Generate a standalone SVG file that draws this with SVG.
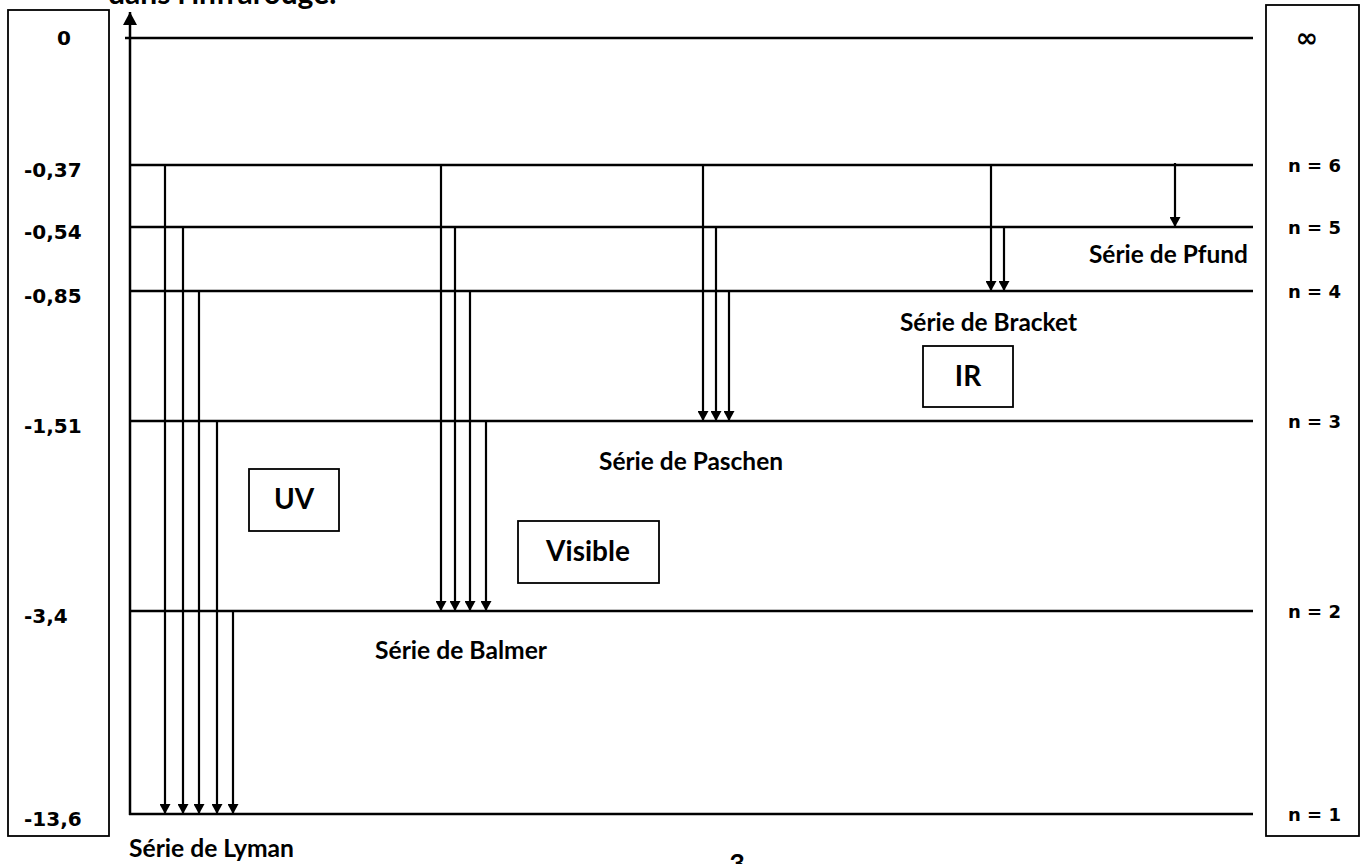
<svg xmlns="http://www.w3.org/2000/svg" width="1367" height="864" viewBox="0 0 1367 864">
<defs>
<style>
.lvl{stroke:#000;stroke-width:2.5;fill:none}
.arr{stroke:#000;stroke-width:2.2;fill:none;marker-end:url(#ah)}
.axis{stroke:#000;stroke-width:2.5;fill:none;marker-end:url(#ahbig)}
.box{fill:#fff;stroke:#000;stroke-width:1.8}
.cal{font-family:Lato,"Liberation Sans",sans-serif;font-weight:bold;fill:#000}
.ser{font-size:25px}
.ver{font-family:"DejaVu Sans",Verdana,sans-serif;font-weight:bold;font-size:18px;fill:#000}
.lft{font-size:20px}
.inf{font-size:27px}
</style>
<marker id="ah" viewBox="0 0 10 11" refX="10" refY="5.5" markerWidth="10" markerHeight="11" markerUnits="userSpaceOnUse" orient="auto">
<path d="M0,0 L10,5.5 L0,11 Z" fill="#000"/>
</marker>
<marker id="ahbig" viewBox="0 0 13 14" refX="13" refY="7" markerWidth="13" markerHeight="14" markerUnits="userSpaceOnUse" orient="auto">
<path d="M0,0 L13,7 L0,14 Z" fill="#000"/>
</marker>
</defs>
<rect width="1367" height="864" fill="#fff"/>
<text class="cal" x="108" y="4" style="font-size:30px">dans l'infrarouge.</text>
<g id="energy-scale">
<rect class="box" x="8" y="10" width="101" height="826"/>
<text class="ver lft" x="64" y="45" text-anchor="middle">0</text>
<text class="ver lft" x="24" y="177">-0,37</text>
<text class="ver lft" x="24" y="239">-0,54</text>
<text class="ver lft" x="24" y="303">-0,85</text>
<text class="ver lft" x="24" y="433">-1,51</text>
<text class="ver lft" x="24" y="623">-3,4</text>
<text class="ver lft" x="24" y="826">-13,6</text>
</g>
<g id="n-scale">
<rect class="box" x="1266" y="5" width="93" height="831"/>
<text class="ver inf" x="1307" y="47" text-anchor="middle">∞</text>
<text class="ver" x="1288" y="172">n = 6</text>
<text class="ver" x="1288" y="234">n = 5</text>
<text class="ver" x="1288" y="298">n = 4</text>
<text class="ver" x="1288" y="428">n = 3</text>
<text class="ver" x="1288" y="618">n = 2</text>
<text class="ver" x="1288" y="821">n = 1</text>
</g>
<g id="levels">
<line class="lvl" x1="125" y1="38" x2="1253" y2="38"/>
<line class="lvl" x1="130" y1="165" x2="1253" y2="165"/>
<line class="lvl" x1="130" y1="227" x2="1253" y2="227"/>
<line class="lvl" x1="130" y1="291" x2="1253" y2="291"/>
<line class="lvl" x1="130" y1="421" x2="1253" y2="421"/>
<line class="lvl" x1="130" y1="611" x2="1253" y2="611"/>
<line class="lvl" x1="129" y1="814" x2="1253" y2="814"/>
</g>
<g id="connectors">
<line class="axis" x1="130" y1="815" x2="130" y2="12"/>
<line class="arr" x1="165" y1="165" x2="165" y2="814"/>
<line class="arr" x1="183" y1="227" x2="183" y2="814"/>
<line class="arr" x1="199" y1="291" x2="199" y2="814"/>
<line class="arr" x1="217" y1="421" x2="217" y2="814"/>
<line class="arr" x1="233" y1="611" x2="233" y2="814"/>
<line class="arr" x1="441" y1="165" x2="441" y2="611"/>
<line class="arr" x1="455" y1="227" x2="455" y2="611"/>
<line class="arr" x1="470" y1="291" x2="470" y2="611"/>
<line class="arr" x1="486" y1="421" x2="486" y2="611"/>
<line class="arr" x1="703" y1="165" x2="703" y2="421"/>
<line class="arr" x1="716" y1="227" x2="716" y2="421"/>
<line class="arr" x1="729" y1="291" x2="729" y2="421"/>
<line class="arr" x1="991" y1="165" x2="991" y2="291"/>
<line class="arr" x1="1004" y1="227" x2="1004" y2="291"/>
<line class="arr" x1="1175" y1="163" x2="1175" y2="227"/>
</g>
<g id="series-labels">
<text class="cal ser" x="129" y="857" textLength="165" lengthAdjust="spacingAndGlyphs">Série de Lyman</text>
<text class="cal ser" x="375" y="659" textLength="172" lengthAdjust="spacingAndGlyphs">Série de Balmer</text>
<text class="cal ser" x="599" y="470" textLength="184" lengthAdjust="spacingAndGlyphs">Série de Paschen</text>
<text class="cal ser" x="900" y="331" textLength="177" lengthAdjust="spacingAndGlyphs">Série de Bracket</text>
<text class="cal ser" x="1089" y="263" textLength="159" lengthAdjust="spacingAndGlyphs">Série de Pfund</text>
</g>
<g id="uv">
<rect class="box" x="249" y="469" width="90" height="62"/>
<text class="cal" x="294" y="509" style="font-size:28px" text-anchor="middle">UV</text>
</g>
<g id="visible">
<rect class="box" x="518" y="521" width="141" height="62"/>
<text class="cal" x="588" y="561" style="font-size:28px" text-anchor="middle">Visible</text>
</g>
<g id="ir">
<rect class="box" x="923" y="346" width="90" height="61"/>
<text class="cal" x="968" y="386" style="font-size:28px" text-anchor="middle">IR</text>
</g>
<text class="cal" x="737" y="873" style="font-size:27px" text-anchor="middle">3</text>
</svg>
